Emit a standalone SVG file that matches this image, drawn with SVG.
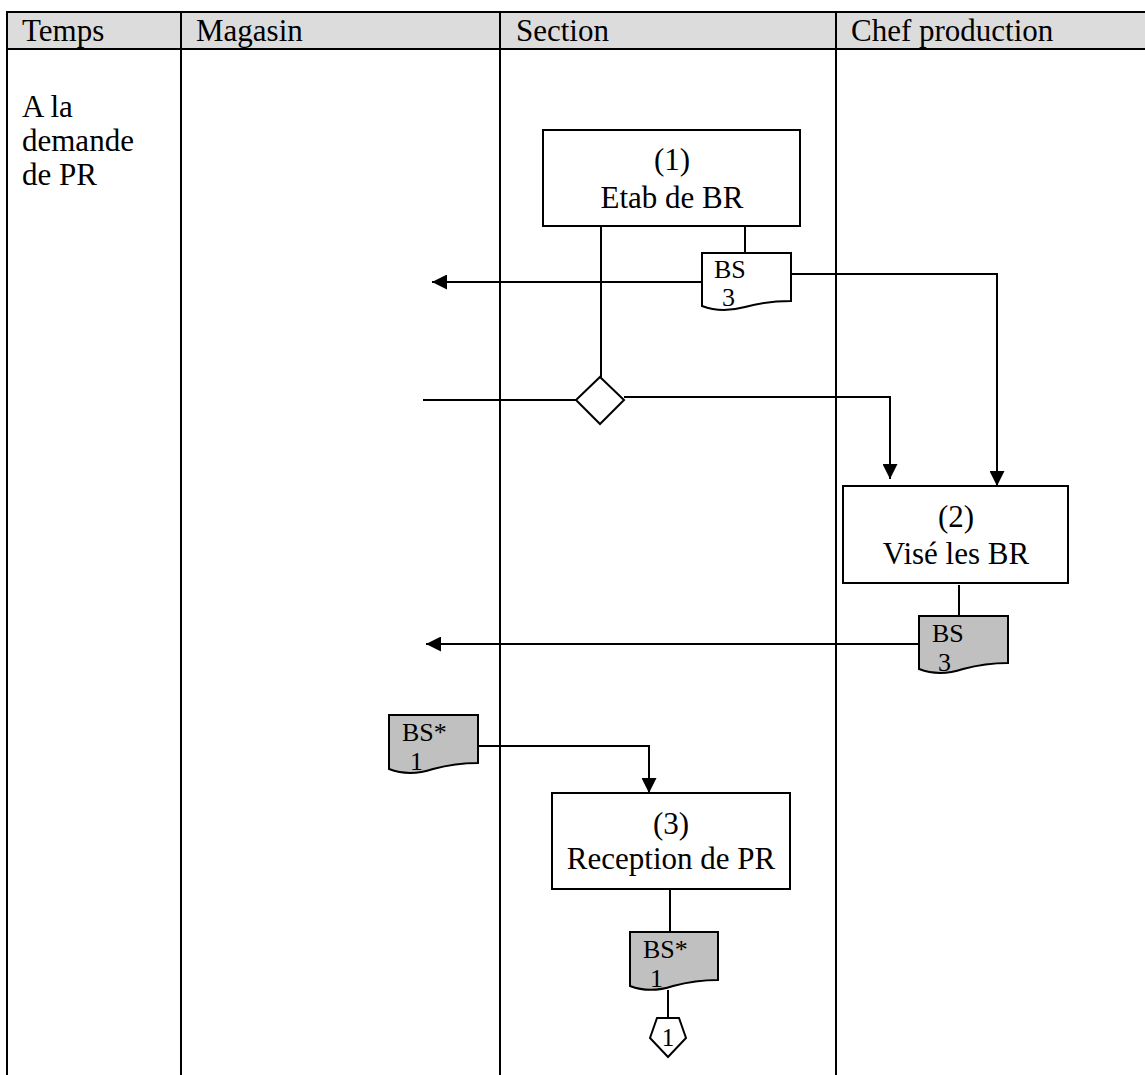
<svg xmlns="http://www.w3.org/2000/svg" width="1145" height="1075" viewBox="0 0 1145 1075">
  <style>
    text { font-family: "Liberation Serif", "Times New Roman", serif; fill: #000; }
    .hd { font-size: 31px; }
    .lbl { font-size: 31px; text-anchor: middle; }
    .doc-t { font-size: 26px; }
    .grid { stroke: #000; stroke-width: 2; fill: none; }
    .box { fill: #fff; stroke: #000; stroke-width: 2; }
    .doc { stroke: #000; stroke-width: 2; }
    .wire { stroke: #000; stroke-width: 2; fill: none; }
  </style>
  <defs>
    <marker id="arrow" viewBox="0 0 10 10" refX="10" refY="5" markerWidth="15" markerHeight="15" markerUnits="userSpaceOnUse" orient="auto">
      <path d="M0,0 L10,5 L0,10 Z" fill="#000"/>
    </marker>
  </defs>

  <rect width="1145" height="1075" fill="#fff"/>

  <!-- swimlane table -->
  <g id="table">
    <rect x="7" y="12" width="1145" height="37" fill="#dcdcdc"/>
    <line class="grid" x1="7" y1="12" x2="1145" y2="12"/>
    <line class="grid" x1="7" y1="49" x2="1145" y2="49"/>
    <line class="grid" x1="7" y1="11" x2="7" y2="1075"/>
    <line class="grid" x1="181" y1="11" x2="181" y2="1075"/>
    <line class="grid" x1="500" y1="11" x2="500" y2="1075"/>
    <line class="grid" x1="836" y1="11" x2="836" y2="1075"/>
    <text class="hd" x="22" y="41">Temps</text>
    <text class="hd" x="196" y="41">Magasin</text>
    <text class="hd" x="516" y="41">Section</text>
    <text class="hd" x="851" y="41">Chef production</text>
    <text class="hd" x="22" y="117">A la</text>
    <text class="hd" x="22" y="151">demande</text>
    <text class="hd" x="22" y="185">de PR</text>
  </g>

  <!-- connectors -->
  <g id="connectors">
    <line class="wire" x1="601" y1="226" x2="601" y2="377"/>
    <line class="wire" x1="745" y1="226" x2="745" y2="253"/>
    <line class="wire" x1="702" y1="282" x2="432" y2="282" marker-end="url(#arrow)"/>
    <polyline class="wire" points="791,274 997,274 997,486" marker-end="url(#arrow)"/>
    <line class="wire" x1="576" y1="400" x2="423" y2="400"/>
    <polyline class="wire" points="624,397 890,397 890,479" marker-end="url(#arrow)"/>
    <line class="wire" x1="959" y1="585" x2="959" y2="616"/>
    <line class="wire" x1="919" y1="644" x2="426" y2="644" marker-end="url(#arrow)"/>
    <polyline class="wire" points="478,746 649,746 649,793" marker-end="url(#arrow)"/>
    <line class="wire" x1="670" y1="889" x2="670" y2="932"/>
    <line class="wire" x1="668" y1="990" x2="668" y2="1018"/>
  </g>

  <!-- (1) Etab de BR -->
  <g id="step1">
    <rect class="box" x="543" y="130" width="257" height="96"/>
    <text class="lbl" x="672" y="170">(1)</text>
    <text class="lbl" x="672" y="208">Etab de BR</text>
  </g>

  <!-- BS 3 issued by section -->
  <g id="doc-bs3-a">
    <path class="doc" fill="#fff" d="M702,253 H791 V301 C772,301 760,303 745,307 C730,311 715,311 702,306 Z"/>
    <text class="doc-t" x="714" y="278">BS</text>
    <text class="doc-t" x="722" y="306">3</text>
  </g>

  <!-- decision -->
  <g id="decision">
    <polygon class="box" points="600,377 624,400 600,424 576,400"/>
  </g>

  <!-- (2) Visé les BR -->
  <g id="step2">
    <rect class="box" x="843" y="486" width="225" height="97"/>
    <text class="lbl" x="956" y="527">(2)</text>
    <text class="lbl" x="956" y="564">Visé les BR</text>
  </g>

  <!-- BS 3 after approval -->
  <g id="doc-bs3-b">
    <path class="doc" fill="#c0c0c0" d="M919,616 H1008 V663 C990,663 978,665 963,669 C948,674 932,674 919,669 Z"/>
    <text class="doc-t" x="932" y="642">BS</text>
    <text class="doc-t" x="938" y="671">3</text>
  </g>

  <!-- BS* 1 from store -->
  <g id="doc-bs1-a">
    <path class="doc" fill="#c0c0c0" d="M389,715 H478 V763 C460,763 448,765 433,769 C418,774 402,774 389,769 Z"/>
    <text class="doc-t" x="402" y="741">BS*</text>
    <text class="doc-t" x="410" y="770">1</text>
  </g>

  <!-- (3) Reception de PR -->
  <g id="step3">
    <rect class="box" x="552" y="793" width="238" height="96"/>
    <text class="lbl" x="671" y="834">(3)</text>
    <text class="lbl" x="671" y="869">Reception de PR</text>
  </g>

  <!-- BS* 1 after reception -->
  <g id="doc-bs1-b">
    <path class="doc" fill="#c0c0c0" d="M630,932 H718 V980 C700,980 688,982 673,986 C658,991 643,991 630,986 Z"/>
    <text class="doc-t" x="643" y="958">BS*</text>
    <text class="doc-t" x="650" y="987">1</text>
  </g>

  <!-- off-page connector 1 -->
  <g id="offpage-1">
    <polygon class="box" points="657,1018 679,1018 686,1038 668,1057 650,1038"/>
    <text x="668" y="1046" font-size="25" text-anchor="middle">1</text>
  </g>
</svg>
